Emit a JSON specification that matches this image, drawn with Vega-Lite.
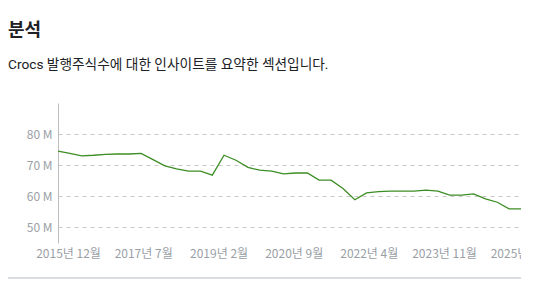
{
  "$schema": "https://vega.github.io/schema/vega-lite/v6.json",
  "autosize": "none",
  "padding": {"top": 103, "left": 58, "right": 0, "bottom": 44},
  "width": 463,
  "height": 140,
  "background": "white",
  "title": {
    "text": "분석",
    "subtitle": "Crocs 발행주식수에 대한 인사이트를 요약한 섹션입니다.",
    "anchor": "start",
    "frame": "group",
    "dx": -50,
    "offset": 31,
    "font": "Roboto, Noto Sans CJK KR",
    "fontSize": 18,
    "fontWeight": "bold",
    "color": "#202124",
    "subtitleFont": "Roboto, Noto Sans CJK KR",
    "subtitleFontSize": 13.7,
    "subtitleColor": "#202124",
    "subtitlePadding": 18
  },
  "data": {
    "values": [
      {"date": "2015-09-15", "shares": 74.5},
      {"date": "2015-12-15", "shares": 73.8},
      {"date": "2016-03-15", "shares": 73.0},
      {"date": "2016-06-15", "shares": 73.2},
      {"date": "2016-09-15", "shares": 73.5},
      {"date": "2016-12-15", "shares": 73.6},
      {"date": "2017-03-15", "shares": 73.6},
      {"date": "2017-06-15", "shares": 73.8},
      {"date": "2017-09-15", "shares": 71.8},
      {"date": "2017-12-15", "shares": 69.8},
      {"date": "2018-03-15", "shares": 68.8},
      {"date": "2018-06-15", "shares": 68.1},
      {"date": "2018-09-15", "shares": 68.1},
      {"date": "2018-12-15", "shares": 66.8},
      {"date": "2019-03-15", "shares": 73.2},
      {"date": "2019-06-15", "shares": 71.6},
      {"date": "2019-09-15", "shares": 69.3},
      {"date": "2019-12-15", "shares": 68.4},
      {"date": "2020-03-15", "shares": 68.1},
      {"date": "2020-06-15", "shares": 67.2},
      {"date": "2020-09-15", "shares": 67.5},
      {"date": "2020-12-15", "shares": 67.5},
      {"date": "2021-03-15", "shares": 65.2},
      {"date": "2021-06-15", "shares": 65.2},
      {"date": "2021-09-15", "shares": 62.5},
      {"date": "2021-12-15", "shares": 58.9},
      {"date": "2022-03-15", "shares": 61.1},
      {"date": "2022-06-15", "shares": 61.5},
      {"date": "2022-09-15", "shares": 61.7},
      {"date": "2022-12-15", "shares": 61.7},
      {"date": "2023-03-15", "shares": 61.7},
      {"date": "2023-06-15", "shares": 62.0},
      {"date": "2023-09-15", "shares": 61.7},
      {"date": "2023-12-15", "shares": 60.4},
      {"date": "2024-03-15", "shares": 60.4},
      {"date": "2024-06-15", "shares": 60.8},
      {"date": "2024-09-15", "shares": 59.2},
      {"date": "2024-12-15", "shares": 58.1},
      {"date": "2025-03-15", "shares": 56.0},
      {"date": "2025-06-15", "shares": 56.0}
    ],
    "format": {"parse": {"date": "date:'%Y-%m-%d'"}}
  },
  "layer": [
    {
      "mark": {"type": "line", "color": "#3c8d23", "strokeWidth": 1.3},
      "encoding": {
        "x": {
          "field": "date",
          "type": "temporal",
          "scale": {
            "nice": false,
            "domain": [
              {"year": 2015, "month": 9, "date": 15},
              {"year": 2025, "month": 6, "date": 15}
            ]
          },
          "axis": {
            "title": null,
            "values": [
              {"year": 2015, "month": 12, "date": 1},
              {"year": 2017, "month": 7, "date": 1},
              {"year": 2019, "month": 2, "date": 1},
              {"year": 2020, "month": 9, "date": 1},
              {"year": 2022, "month": 4, "date": 1},
              {"year": 2023, "month": 11, "date": 1},
              {"year": 2025, "month": 6, "date": 1}
            ],
            "format": "%Y년 %-m월",
            "grid": false,
            "domain": false,
            "ticks": false,
            "labelPadding": 5,
            "labelFont": "Noto Sans CJK KR",
            "labelFontSize": 12,
            "labelColor": "#9aa0a6",
            "labelOverlap": false,
            "labelBound": false,
            "labelFlush": false
          }
        },
        "y": {
          "field": "shares",
          "type": "quantitative",
          "scale": {"domain": [45, 90], "nice": false, "zero": false},
          "axis": {
            "title": null,
            "values": [50, 60, 70, 80],
            "labelExpr": "datum.value + ' M'",
            "grid": true,
            "gridColor": "#c8c8c8",
            "gridDash": [4, 4],
            "domain": true,
            "domainColor": "#bdbdbd",
            "ticks": false,
            "labelPadding": 6,
            "labelFont": "Noto Sans CJK KR",
            "labelFontSize": 12,
            "labelColor": "#9aa0a6"
          }
        }
      }
    },
    {
      "mark": {"type": "rule", "color": "#dadce0", "strokeWidth": 1},
      "encoding": {
        "x": {"datum": {"year": 2014, "month": 8, "date": 27}, "type": "temporal"},
        "x2": {"datum": {"year": 2025, "month": 6, "date": 15}},
        "y": {"datum": 33.8, "type": "quantitative"}
      }
    }
  ],
  "config": {"view": {"stroke": null}}
}
